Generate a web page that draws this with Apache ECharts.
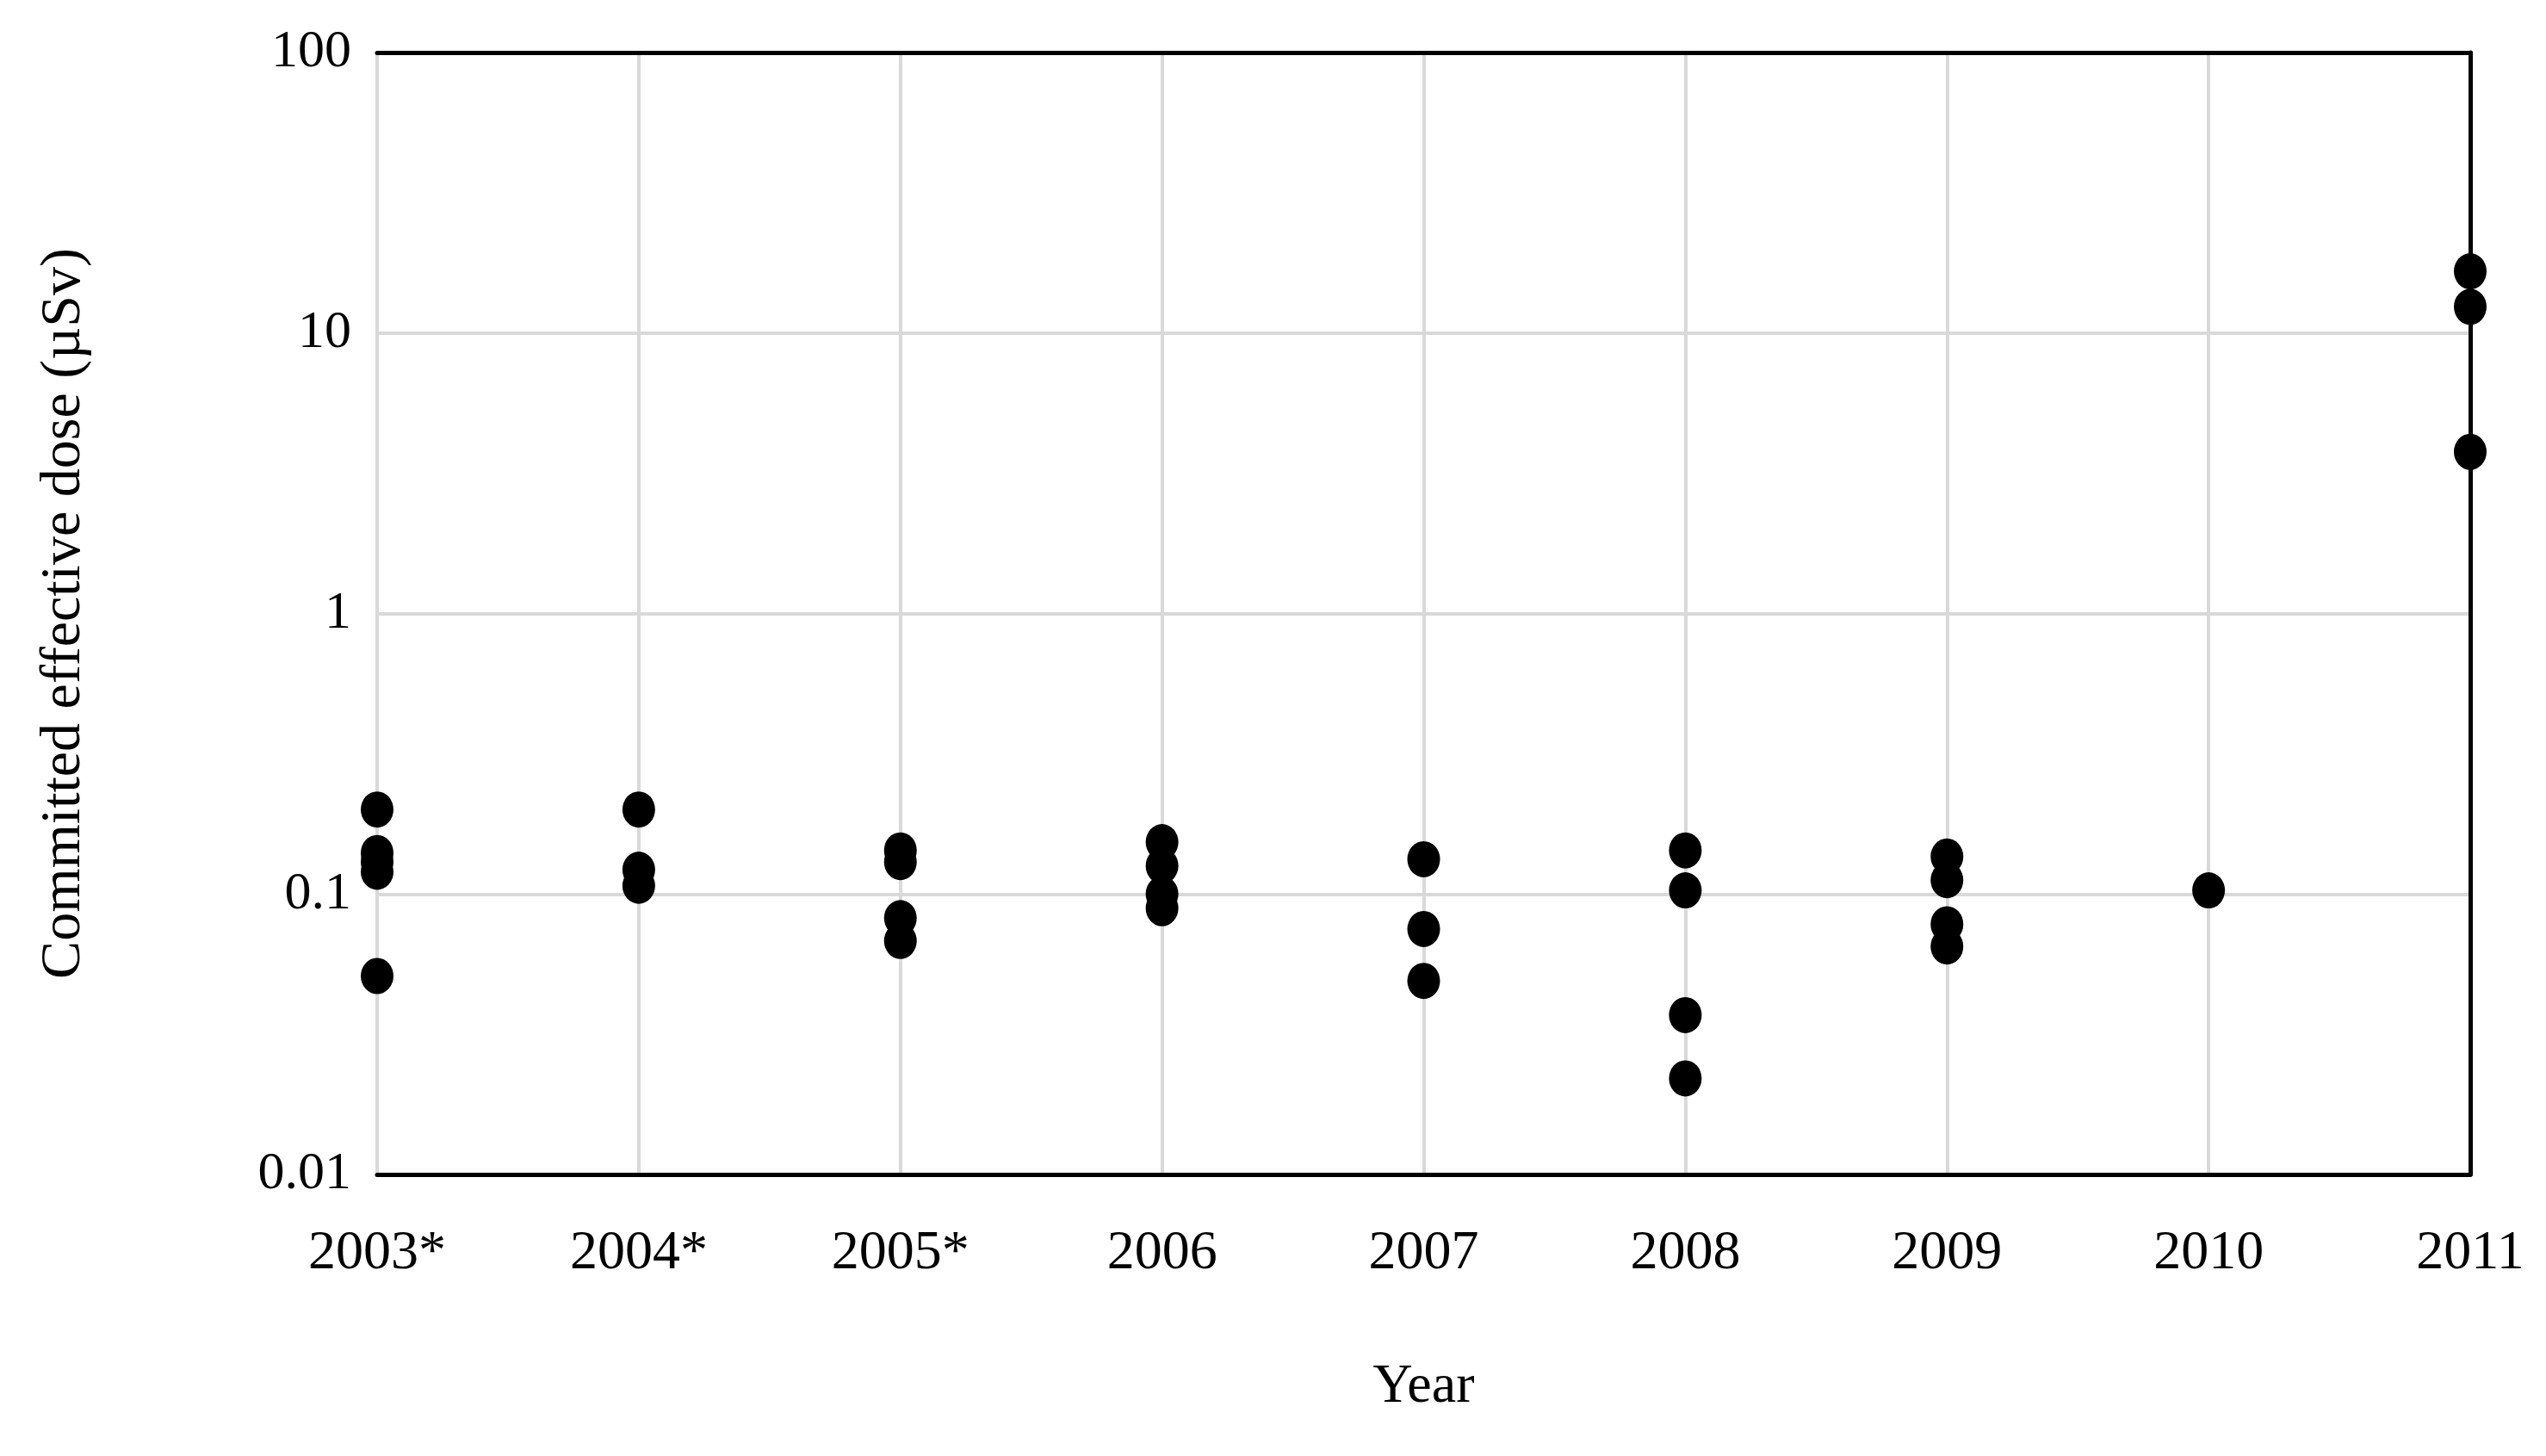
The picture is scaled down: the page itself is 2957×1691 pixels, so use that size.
<!DOCTYPE html>
<html>
<head>
<meta charset="utf-8">
<script src="https://cdn.jsdelivr.net/npm/echarts@6/dist/echarts.min.js"></script>
<style>html,body{margin:0;padding:0;background:#fff}#main{width:2957px;height:1691px}</style>
</head>
<body>
<div id="main"></div>
<script>
var years = ['2003*', '2004*', '2005*', '2006', '2007', '2008', '2009', '2010', '2011'];
var dose2003 = [0.2, 0.14, 0.13, 0.12, 0.051];
var dose2004 = [0.2, 0.122, 0.107];
var dose2005 = [0.143, 0.13, 0.082, 0.068];
var dose2006 = [0.153, 0.126, 0.1, 0.089];
var dose2007 = [0.133, 0.075, 0.049];
var dose2008 = [0.143, 0.103, 0.037, 0.022];
var dose2009 = [0.136, 0.112, 0.078, 0.065];
var dose2010 = [0.103];
var dose2011 = [16.6, 12.4, 3.77];

var all = [dose2003, dose2004, dose2005, dose2006, dose2007, dose2008, dose2009, dose2010, dose2011];
var points = [];
all.forEach(function (list, i) {
    list.forEach(function (v) { points.push([years[i], v]); });
});

var font = 'Liberation Serif';
var chart = echarts.init(document.getElementById('main'));
chart.setOption({
    backgroundColor: '#fff',
    grid: { left: 438, right: 88, top: 61, bottom: 327 },
    xAxis: [{
        type: 'category',
        data: years,
        boundaryGap: false,
        name: 'Year',
        nameLocation: 'middle',
        nameGap: 215,
        nameTextStyle: { fontFamily: font, fontSize: 64, color: '#000' },
        axisLine: { lineStyle: { color: '#000', width: 5 } },
        axisTick: { show: false },
        axisLabel: { fontFamily: font, fontSize: 64, color: '#000', margin: 60 },
        splitLine: { show: true, lineStyle: { color: '#d9d9d9', width: 4 } }
    }, {
        type: 'category',
        data: years,
        boundaryGap: false,
        position: 'top',
        axisLine: { lineStyle: { color: '#000', width: 5 } },
        axisTick: { show: false },
        axisLabel: { show: false },
        splitLine: { show: false }
    }],
    yAxis: [{
        type: 'log',
        logBase: 10,
        min: 0.01,
        max: 100,
        name: 'Committed effective dose (µSv)',
        nameLocation: 'middle',
        nameGap: 330,
        nameTextStyle: { fontFamily: font, fontSize: 66, color: '#000' },
        axisLine: { lineStyle: { color: '#000', width: 5 } },
        axisTick: { show: false },
        axisLabel: { fontFamily: font, fontSize: 62, color: '#000', margin: 30,
            formatter: function (v) { return String(+v.toPrecision(3)); } },
        splitLine: { show: true, lineStyle: { color: '#d9d9d9', width: 4 } }
    }, {
        type: 'log',
        logBase: 10,
        min: 0.01,
        max: 100,
        position: 'right',
        axisLine: { show: true, lineStyle: { color: '#000', width: 5 } },
        axisTick: { show: false },
        axisLabel: { show: false },
        splitLine: { show: false }
    }],
    series: [{
        type: 'scatter',
        data: points,
        symbol: 'circle',
        symbolSize: [38, 42],
        itemStyle: { color: '#000', opacity: 1 },
        z: 10
    }]
});
</script>
</body>
</html>
